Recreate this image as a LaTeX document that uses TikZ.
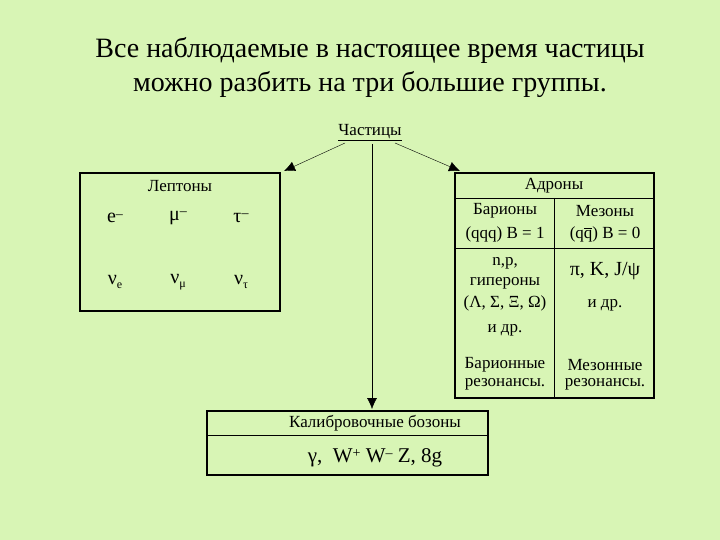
\documentclass[tikz,border=0pt]{standalone}
\usepackage{fontspec}
\setmainfont{Liberation Serif}
\usetikzlibrary{arrows.meta}
\definecolor{bg}{RGB}{216,245,181}
\newcommand{\upsup}[1]{\raisebox{0.5ex}{\fontsize{14}{14}\selectfont #1}}
\newcommand{\dnsub}[1]{\raisebox{-0.4ex}{\fontsize{12}{12}\selectfont #1}}
\begin{document}
\begin{tikzpicture}[x=1pt,y=-1pt,
  box/.style={draw,line width=1.2pt},
  tx/.style={font=\fontsize{17}{19}\selectfont,inner sep=0pt},
  big/.style={font=\fontsize{20}{22}\selectfont,inner sep=0pt},
  arr/.style={-{Latex[length=11pt,width=10pt]}},
  ]
\fill[bg] (0,0) rectangle (720,540);
\useasboundingbox (0,0) rectangle (720,540);
\node[font=\fontsize{28}{34}\selectfont,align=center] (title) at (370,68) {Все наблюдаемые в настоящее время частицы\\можно разбить на три большие группы.};
\node[tx] (part) at (370,133) {\underline{Частицы}};
% leptons
\draw[box] (80,173) rectangle (280,311);
\coordinate (lep) at (284,171);
\node[tx] at (180,186) {Лептоны};
\node[big] at (115,218) {e\upsup{–}};
\node[big] at (178,218) {μ\upsup{–}};
\node[big] at (241,218) {τ\upsup{–}};
\node[big] at (115,282) {ν\dnsub{e}};
\node[big] at (178,282) {ν\dnsub{μ}};
\node[big] at (241,282) {ν\dnsub{τ}};
% hadrons
\draw[box] (455,173) rectangle (654,398);
\draw (455,198) -- (654,198);
\draw (455,248) -- (654,248);
\draw (554,198) -- (554,398);
\coordinate (had) at (460,171);
\node[tx] at (554,186) {Адроны};
\node[tx] at (505,211) {Барионы};
\node[tx] at (505,234) {(qqq) B = 1};
\node[tx] at (605,211) {Мезоны};
\node[tx] at (605,234) {(q$\overline{\mathrm{q}}$)\ B = 0};
\node[tx] at (505,263) {n,p,};
\node[tx] at (505,283) {гипероны};
\node[tx] at (505,303) {(Λ, Σ, Ξ, Ω)};
\node[tx] at (505,330) {и др.};
\node[big] at (605,271) {π, K, J/ψ};
\node[tx] at (605,305) {и др.};
\node[tx] at (505,365) {Барионные};
\node[tx] at (505,384) {резонансы.};
\node[tx] at (605,365) {Мезонные};
\node[tx] at (605,384) {резонансы.};
% bosons
\draw[box] (207,411) rectangle (488,475);
\draw (207,435) -- (488,435);
\coordinate (bos) at (372,409);
\node[tx] at (375,423) {Калибровочные бозоны};
\node[tx,font=\fontsize{21}{23}\selectfont] at (375,458) {γ,\ \ W\upsup{+}\ W\upsup{–}\ Z, 8g};
% arrows
\draw[arr] (345,143) -- (lep);
\draw[arr] (395,143) -- (had);
\draw[arr] (372,144) -- (bos);
\end{tikzpicture}
\end{document}
